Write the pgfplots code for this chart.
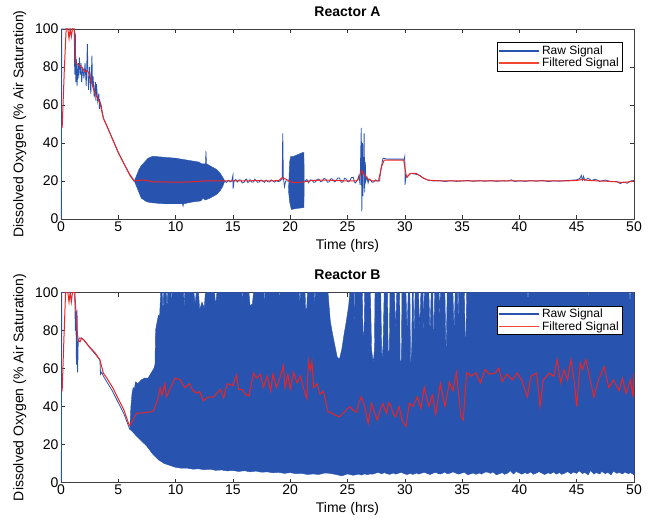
\documentclass[border=0pt]{standalone}
\usepackage{pgfplots}
\pgfplotsset{compat=1.18}
\usepackage{fontspec}
\setmainfont{Liberation Sans}
\definecolor{rawblue}{RGB}{40,84,176}
\definecolor{filtred}{RGB}{236,36,36}
\definecolor{legred}{RGB}{240,70,50}
\pgfplotsset{
  myaxis/.style={
    scale only axis, width=573pt, height=190pt,
    xmin=0, xmax=50, ymin=0, ymax=100,
    xtick={0,5,...,50}, ytick={0,20,...,100},
    tick align=inside, major tick length=4pt,
    axis line style={black!75, line width=0.6pt},
    every tick/.style={black!80, line width=0.6pt},
    tick label style={font=\fontsize{14}{16}\selectfont},
    /pgf/number format/assume math mode=true,
    xticklabel style={yshift=1pt},
    yticklabel style={xshift=1pt},
    label style={font=\fontsize{14}{16}\selectfont},
    xlabel={Time (hrs)},
    ylabel={Dissolved Oxygen (\% Air Saturation)},
    xlabel style={yshift=-1pt},
    ylabel style={yshift=2pt},
    title style={font=\fontsize{14}{16}\selectfont\bfseries, yshift=3pt},
    legend style={at={(0.979,0.929)}, anchor=north east, draw=black,
      font=\fontsize{12}{12}\selectfont, inner sep=1pt, row sep=-2pt, legend cell align=left},
    clip=true,
    unbounded coords=jump,
  }
}
\begin{document}
\begin{tikzpicture}
\useasboundingbox (-61pt,-302pt) rectangle (599pt,219pt);
% ---------------- Reactor A ----------------
\begin{axis}[myaxis, at={(0,0)}, anchor=south west, title={Reactor A},
  legend image code/.code={\draw[#1] (0pt,0pt) -- (40pt,0pt);}]
\addlegendimage{rawblue, line width=1.6pt}
\addlegendentry{Raw Signal}
\addlegendimage{legred, line width=1.8pt}
\addlegendentry{Filtered Signal}
\addplot[rawblue, line width=0.8pt, forget plot] coordinates {
(0.03,0)(0.06,100)(1.15,100)(1.2,76)(1.25,98)(1.3,72)(1.35,84)(1.4,70)(1.5,82)(1.55,74)(1.6,85)(1.7,76)(1.75,82)(1.8,72)(1.9,80)(2.0,74)(2.1,82)(2.2,70)(2.3,92)(2.35,78)(2.4,68)(2.5,80)(2.6,66)(2.7,86)(2.75,70)(2.8,75)(2.9,64)(3.0,72)(3.05,62)(3.1,71)(3.2,62)(3.3,66)(3.35,58)(3.4,62)(3.5,60)(3.7,53)(4.0,49)(4.5,42)(5.0,35)(5.5,29)(6.0,23)(6.35,20)(6.5,20)(10,20)(14.3,20)(14.45,19.2)(14.6,20.4)(14.75,19.5)(14.9,20)(15.0,23)(15.02,16)(15.1,20)(15.25,20.8)(15.4,19.5)(15.55,20.6)(15.7,20.5)(15.8,19)(16.0,19.5)(16.1,20.8)(16.2,21)(16.3,19.2)(16.4,19.5)(16.5,20.7)(16.65,19.4)(16.8,19.5)(16.9,20.9)(17.0,20.5)(17.15,19.3)(17.3,19.5)(17.45,20.6)(17.6,20)(17.75,19.3)(17.9,20.5)(18.05,19.6)(18.2,19.5)(18.35,20.6)(18.5,20)(18.65,19.4)(18.8,20.3)(18.95,19.6)(19.1,20)(19.3,21)(19.35,45)(19.4,22)(19.5,17)(19.6,20)(19.8,20)(21.3,20)(21.45,20.8)(21.6,19)(21.75,20.6)(21.9,20.5)(22.05,19.3)(22.2,19.5)(22.35,20.9)(22.5,21)(22.65,19.6)(22.8,20)(22.95,21.3)(23.1,21)(23.25,19.4)(23.4,19.5)(23.55,21.2)(23.7,21)(23.85,19.6)(24.0,20)(24.15,21.6)(24.3,21.5)(24.45,19.3)(24.6,19.5)(24.75,21.4)(24.9,21)(25.05,19.5)(25.2,20)(25.35,21.8)(25.5,22)(25.6,19.5)(25.7,19)(25.9,21)(26.0,23)(26.1,18)(26.2,48)(26.25,4)(26.3,40)(26.35,12)(26.4,30)(26.45,45)(26.5,14)(26.55,30)(26.6,20)(26.7,22)(26.8,19)(26.9,21)(27.0,20.5)(27.15,19.3)(27.3,19.5)(27.45,20.6)(27.6,20)(27.8,20)(27.9,26)(28.1,32)(28.5,31.5)(29,31.5)(29.5,31.5)(29.95,31.5)(30.0,33)(30.02,18)(30.1,23)(30.2,22)(30.5,24)(31.0,23.5)(31.3,23)(31.6,21.5)(32.0,20.5)(32.5,20)(33,20.3)(33.5,19.7)(34,20.2)(34.5,19.8)(35,20)(35.5,20.3)(36,19.8)(36.5,20.2)(37,19.9)(37.5,20.2)(38,19.8)(38.5,20.1)(39,20)(39.3,20.6)(39.6,19.7)(40,20.1)(40.5,19.8)(41,20.2)(41.5,19.9)(42,20.3)(42.5,19.7)(43,20.1)(43.5,19.9)(44,20.2)(44.5,20.4)(45,20.6)(45.3,21.5)(45.4,23)(45.5,20.5)(45.6,22.5)(45.7,20.3)(46,21.5)(46.3,20.2)(46.6,21)(47,19.8)(47.5,20.5)(48,19.6)(48.5,19.8)(48.8,18.6)(49.1,19.5)(49.4,18.8)(49.7,20)(50,20.3)
};
\addplot[rawblue, fill=rawblue, line width=0.4pt, forget plot] coordinates {
(6.4,20)(6.6,23)(6.8,26)(7.0,28)(7.3,30)(7.6,32)(8.0,33)(9,32.5)(10,32)(11,31)(11.5,30.5)(12,30)(12.3,29)(12.6,29)(12.65,36)(12.7,29)(13.0,28)(13.3,27)(13.6,26)(13.9,24)(14.1,22)(14.3,20)
(14.1,17)(13.9,15)(13.6,13)(13.3,12)(13.0,11)(12.6,10)(12.4,11)(12.2,9.5)(11.5,9)(10.7,8)(10.65,6.5)(10.6,8)(10,8)(9,8)(8,8.5)(7.5,9)(7.0,11)(6.8,14)(6.6,17)(6.4,20)
(17,nan)
(19.85,15)(19.95,30)(20.05,33)(20.3,33)(20.7,34)(21.1,35)(21.2,35)(21.22,20)(21.2,6)(20.5,5.5)(20.1,5)(19.95,9)(19.85,15)
};
\addplot[filtred, line width=1pt, forget plot] coordinates {
(0.1,48)(0.3,80)(0.45,100)(0.6,100)(0.7,95)(0.8,100)(0.9,96)(1.0,100)(1.15,100)(1.3,82)(1.6,81)(1.9,79)(2.1,77.5)(2.3,78)(2.5,76)(2.8,69)(3.0,66)(3.4,61)(3.7,53)(4.0,49)(4.5,42)(5.0,35)(5.5,29)(6.0,23.5)(6.4,20)(7.0,20.5)(7.5,20.3)(8.0,19.5)(9,19.5)(10,19.4)(11,19.4)(12,19.8)(12.5,20)(13,20)(14,20)(15,20)(16,20)(17,20.2)(18,20)(19,20.2)(19.3,21.8)(19.6,21)(19.9,20)(20.2,19.3)(20.7,19.3)(21.2,19.5)(21.6,20)(22,20.3)(23,20.5)(24,20.3)(25,20)(25.8,20)(26.0,21.5)(26.25,25.5)(26.5,23)(26.8,21)(27.2,20)(27.7,20)(28.0,28)(28.2,31)(29.0,31)(29.9,31)(30.15,22)(30.5,24)(31.0,24)(31.5,22)(32,20.5)(33,20)(35,20)(40,20)(44,20)(45,20.3)(45.5,20.8)(46,20.3)(47,20)(48,19.8)(49,19.2)(49.5,19.5)(50,20)
};
\end{axis}
% ---------------- Reactor B ----------------
\begin{axis}[myaxis, at={(0,-263.5pt)}, anchor=south west, title={Reactor B},
  legend image code/.code={\draw[#1] (0pt,0pt) -- (40pt,0pt);}]
\addlegendimage{rawblue, line width=1.6pt}
\addlegendentry{Raw Signal}
\addlegendimage{legred, line width=1.8pt}
\addlegendentry{Filtered Signal}
\addplot[rawblue, line width=0.8pt, forget plot] coordinates {
(0.03,0)(0.06,100)(1.2,100)(1.25,80)(1.3,90)(1.35,62)(1.4,91)(1.45,58)(1.5,74)(1.6,76)(1.8,76)(2.0,75)(2.5,71)(3.0,67.5)(3.4,64.5)(3.45,57)(3.55,58)(3.7,56)(4.0,53)(4.5,48)(5.0,42)(5.5,36)(6.0,28)
};
\addplot[rawblue, fill=rawblue, line width=0.4pt, forget plot] coordinates {
(6.0,28)(6.1,40)(6.2,47)(6.3,50)(6.4,49)(6.5,53)(6.7,52)(7.0,54)(7.3,55)(7.6,55)(7.9,58)(8.1,60)(8.2,62)(8.25,80)(8.4,85)(8.5,88)(8.6,87)(8.7,100)(8.85,100)(8.9,88)(8.95,100)(9.2,100)(9.25,90)(9.3,100)(9.6,100)(9.65,93)(9.7,100)(10.7,100)(10.75,90)(10.8,100)(11.6,100)(11.7,94)(11.8,100)(12.0,100)(12.1,91)(12.3,95)(12.5,92)(12.6,100)(13.4,100)(13.5,93)(13.6,100)(15.8,100)(15.85,95)(15.9,100)(16.4,100)(16.5,93)(16.7,94)(16.8,100)(17.7,100)(17.75,91)(17.8,100)(19.0,100)(19.05,96)(19.1,100)(20.8,100)(20.85,94)(20.9,100)(21.3,100)(21.35,91)(21.45,92)(21.5,100)(22.1,100)(22.15,94)(22.2,100)(23.3,100)(23.5,85)(23.7,78)(23.9,72)(24.1,66)(24.3,65)(24.5,70)(24.7,78)(24.9,85)(25.1,93)(25.2,100)(25.55,100)(25.6,82)(25.65,100)(26.3,100)(26.35,77)(26.45,80)(26.5,100)(27.0,100)(27.1,70)(27.25,63)(27.35,70)(27.4,100)(27.9,100)(28.0,64)(28.1,72)(28.2,100)(28.5,100)(28.55,67)(28.65,70)(28.7,100)(29.1,100)(29.2,80)(29.3,100)(29.55,100)(29.6,62)(29.7,65)(29.75,100)(30.1,100)(30.2,80)(30.3,100)(30.45,100)(30.5,61)(30.6,70)(30.65,100)(30.75,100)(30.8,75)(30.9,100)(31.2,100)(31.3,80)(31.4,100)(31.6,100)(31.65,70)(31.7,100)(32.1,100)(32.2,78)(32.3,100)(32.45,100)(32.5,66)(32.6,100)(33.0,100)(33.05,82)(33.1,100)(33.5,100)(33.6,66)(33.7,100)(34.2,100)(34.3,80)(34.4,100)(34.6,100)(34.65,85)(34.7,100)(35.2,100)(35.3,64)(35.4,100)(40.7,100)(40.75,96)(40.8,100)(46.0,100)(46.05,97)(46.1,100)(49.6,100)(49.65,94)(49.7,100)(50,100)
(50,4)(49.7,5.2)(49.5,4.6)(49.2,5.5)(49,4.5)(48.7,5.3)(48.5,4.8)(48.2,6)(48,4)(47.7,5.4)(47.5,4.6)(47.2,5.8)(47,4.5)(46.7,5.2)(46.5,4.4)(46.2,6.3)(46,4)(45.7,5.3)(45.5,4.7)(45.2,6.2)(45,4.8)(44.7,5.5)(44.5,4.5)(44.2,5.8)(44,5)(43.7,4.3)(43.5,5.2)(43.2,4.4)(43,5.5)(42.7,4.6)(42.5,5.1)(42.2,4.2)(42,4.8)(41.7,5.7)(41.5,5)(41.2,4.3)(41,5.5)(40.7,4.6)(40.5,5.2)(40.2,4.4)(40,5)(39.7,5.8)(39.5,4.4)(39.2,6.2)(39,5)(38.7,4.3)(38.5,5.2)(38.2,4.5)(38,4)(37.7,5.6)(37.5,4.8)(37.2,5.5)(37,5.5)(36.7,4.4)(36.5,5)(36.2,4.3)(36,5)(35.7,4.5)(35.5,4)(35.2,5.4)(35,5)(34.7,4.4)(34.5,4.8)(34.2,5.6)(34,5)(33.7,4.6)(33.5,5.5)(33.2,4.6)(33,4.5)(32.7,5.3)(32.5,5)(32.2,4.2)(32,4.6)(31.7,5.4)(31.5,5)(31.2,4.4)(31,5)(30.7,4.2)(30.5,4.8)(30.2,4.2)(30,4.5)(29.7,5.3)(29.5,5)(29.2,4.4)(29,5)(28.7,4.3)(28.5,4.5)(28.2,5.2)(28,4.5)(27.7,5.3)(27.5,5)(27.2,4.4)(27,4.5)(26.7,4.1)(26.5,4.6)(26.2,3.9)(26,4.4)(25.5,3.8)(25,4.5)(24.5,3.5)(24,4.2)(23.5,4.8)(23,5)(22.5,4.2)(22,4.5)(21.5,4.2)(21,4.8)(20.5,4.6)(20,5.2)(19.5,4.8)(19,5.3)(18.5,5.1)(18,5.6)(17.5,5.4)(17,6)(16.5,5.6)(16,6.2)(15.5,5.8)(15,6.3)(14.5,6.1)(14,6.6)(13.5,6.4)(13,7)(12.5,6.7)(12,7.2)(11.5,7)(11,7.6)(10.5,7.5)(10,8)(9.5,9)(9,10)(8.5,12)(8,15)(7.5,19)(7,22)(6.5,25)(6.2,27)(6.0,28)
};
\addplot[filtred, line width=1pt, forget plot] coordinates {
(0.1,48)(0.25,75)(0.4,100)(0.6,100)(0.7,95)(0.8,100)(0.9,95)(1.0,100)(1.2,100)(1.4,80)(1.5,75)(1.65,74)(1.8,76)(2.0,75)(2.4,72)(3.0,68)(3.4,64.5)(3.7,57.5)(4.0,55)(4.5,50)(5.0,44)(5.5,38)(5.9,31)(6.02,30)(6.3,33)(6.6,36.5)(7.0,36.5)(7.5,37)(7.8,37)(8.1,38)(8.4,43)(8.65,50)(8.8,46)(8.9,48)(9.05,52)(9.2,45)(9.5,49)(9.95,55)(10.4,54)(10.8,50)(11.2,52)(11.55,48)(11.9,47)(12.1,48)(12.4,43)(12.8,45)(13.3,45)(13.9,49)(14.2,44.5)(14.5,52)(15.0,51)(15.3,56.5)(15.5,49)(15.8,49)(16.05,46.5)(16.4,45.5)(16.8,57.6)(17.1,55)(17.4,57)(17.65,50)(18.0,56)(18.3,48)(18.5,57)(18.8,50)(19.1,55)(19.4,61.5)(19.55,50)(19.8,57)(20.0,49)(20.3,58)(20.6,52.5)(20.9,56)(21.15,50)(21.3,47)(21.45,44)(21.6,64)(21.75,59)(21.9,63.5)(22.05,50)(22.35,52)(22.6,46.5)(22.9,48)(23.3,37)(23.5,37)(23.9,35.5)(24.3,34.6)(24.7,37)(25.2,40)(25.5,38)(25.8,37)(26.0,42)(26.2,45)(26.5,40)(26.8,31)(27.1,41.6)(27.3,38)(27.6,33)(27.9,39)(28.1,41.6)(28.4,36.3)(28.6,42)(28.8,40)(29.0,36)(29.2,34.6)(29.5,40)(29.8,32)(30.1,29.4)(30.4,41.6)(30.7,40)(31.1,45)(31.4,39)(31.7,50)(32.1,40)(32.4,46)(32.7,36)(33.1,52)(33.5,40)(33.9,52.7)(34.2,48.3)(34.5,57.8)(34.9,34.6)(35.1,32.8)(35.4,57.8)(35.8,56)(36.2,57.8)(36.6,52.4)(37.0,59.4)(37.4,57)(37.9,57.6)(38.2,60.3)(38.5,53)(38.9,57)(39.4,54)(39.8,57.6)(40.2,54)(40.7,45)(41.0,55.9)(41.5,57.6)(41.8,40)(42.1,54)(42.6,57.6)(43.0,55.9)(43.3,64.7)(43.6,52.4)(43.9,59.4)(44.2,54)(44.5,64.7)(44.8,52.4)(45.0,40)(45.3,63)(45.5,59.4)(45.8,64.7)(46.1,56)(46.5,45)(46.9,54)(47.4,61)(47.8,50)(48.2,54)(48.7,48.3)(49.0,55)(49.3,47)(49.7,54)(49.9,45)(50,57)
};
\end{axis}
\end{tikzpicture}
\end{document}
